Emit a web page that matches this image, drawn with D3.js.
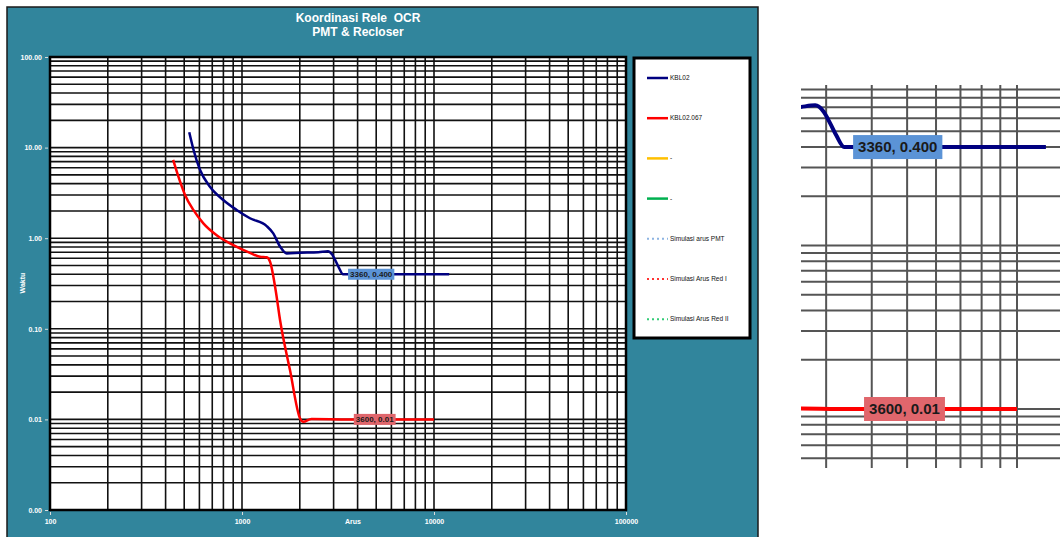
<!DOCTYPE html>
<html>
<head>
<meta charset="utf-8">
<script src="https://cdn.jsdelivr.net/npm/d3@7"></script>
<style>
body { margin: 0; background: #fff; }
svg { display: block; font-family: "Liberation Sans", Arial, sans-serif; }
</style>
</head>
<body>
<div id="containerDiv"></div>
<script>
// KBL02 relay curve
var kbl02Arus  = [531, 558, 604, 681, 799, 938, 1100, 1345, 1455, 1578, 1709, 2000, 2500, 2800, 2950, 3075, 3200, 3360, 12000];
var kbl02Waktu = [14.8, 9.6, 5.7, 3.7, 2.64, 2.05, 1.66, 1.36, 1.13, 0.81, 0.68, 0.69, 0.70, 0.72, 0.66, 0.56, 0.47, 0.40, 0.40];

// KBL02.067 recloser curve
var recArus  = [438, 466, 505, 558, 629, 738, 901, 1100, 1240, 1345, 1400, 1500, 1578, 1778, 2004, 2086, 2300, 3600, 10000];
var recWaktu = [7.3, 4.8, 3.0, 2.05, 1.46, 1.08, 0.84, 0.69, 0.625, 0.615, 0.55, 0.26, 0.125, 0.035, 0.0103, 0.0094, 0.0101, 0.01, 0.01];

// data labels
var labelArus  = [3360, 3600];
var labelWaktu = [0.400, 0.01];
var labelText  = ["3360, 0.400", "3600, 0.01"];

var xTicks = [100, 1000, 10000, 100000];
var xTickLabels = ["100", "1000", "10000", "100000"];
var yTicks = [100, 10, 1, 0.1, 0.01, 0.001];
var yTickLabels = ["100.00", "10.00", "1.00", "0.10", "0.01", "0.00"];

var legendNames = ["KBL02", "KBL02.067", "-", "-", "Simulasi arus PMT", "Simulasi Arus Red I", "Simulasi Arus Red II"];
var legendColors = ["#000080", "#ff0000", "#ffc000", "#00b050", "#8db4e2", "#ff3333", "#33cc77"];
var legendDotted = [false, false, false, false, true, true, true];

var series = [
  {arus: kbl02Arus, waktu: kbl02Waktu, color: "#000080"},
  {arus: recArus, waktu: recWaktu, color: "#ff0000"}
];
var labelFill = ["#5b93d6", "#e0666c"];

var w = 1060, h = 537;
var teal = "#31859c";

var svg = d3.select("#containerDiv").append("svg")
    .attr("width", w)
    .attr("height", h);

// chart panel
svg.append("rect")
   .attr("x", 7).attr("y", 7)
   .attr("width", 751).attr("height", 540)
   .attr("fill", teal)
   .attr("stroke", "#1a1a1a")
   .attr("stroke-width", 1.5);

svg.append("text")
   .attr("x", 358).attr("y", 22)
   .attr("text-anchor", "middle")
   .attr("font-size", "12px").attr("font-weight", "bold")
   .attr("fill", "white")
   .attr("xml:space", "preserve")
   .text("Koordinasi Rele  OCR");
svg.append("text")
   .attr("x", 358).attr("y", 36)
   .attr("text-anchor", "middle")
   .attr("font-size", "12px").attr("font-weight", "bold")
   .attr("fill", "white")
   .text("PMT & Recloser");

// draws grid, curves and data labels for a given pair of scales
function drawPlot(g, x, y, o) {
  g.append("rect")
   .attr("x", o.left).attr("y", o.top)
   .attr("width", o.right - o.left).attr("height", o.bottom - o.top)
   .attr("fill", "white");

  g.selectAll(".vgrid")
   .data(x.ticks())
   .enter()
   .append("line")
   .attr("x1", function(d) { return x(d); })
   .attr("x2", function(d) { return x(d); })
   .attr("y1", o.top).attr("y2", o.bottom)
   .attr("stroke", o.grid).attr("stroke-width", o.gridWidth);

  g.selectAll(".hgrid")
   .data(y.ticks())
   .enter()
   .append("line")
   .attr("y1", function(d) { return y(d); })
   .attr("y2", function(d) { return y(d); })
   .attr("x1", o.left).attr("x2", o.right)
   .attr("stroke", o.grid).attr("stroke-width", o.gridWidth);

  var line = d3.line()
      .x(function(d) { return x(d[0]); })
      .y(function(d) { return y(d[1]); })
      .curve(d3.curveMonotoneX);

  series.forEach(function(s) {
    g.append("path")
     .datum(d3.zip(s.arus, s.waktu))
     .attr("d", line)
     .attr("fill", "none")
     .attr("stroke", s.color)
     .attr("stroke-width", o.lineWidth)
     .attr("stroke-linejoin", "round");
  });

  labelText.forEach(function(t, i) {
    var lx = x(labelArus[i]) + o.labelGap;
    var ly = y(labelWaktu[i]);
    var txt = g.append("text")
     .attr("x", lx + o.pad).attr("y", ly + o.fontSize * 0.36)
     .attr("font-size", o.fontSize + "px")
     .attr("font-weight", "bold")
     .attr("fill", "#1a1a1a")
     .text(t);
    var bw = txt.node().getComputedTextLength() + o.pad * 2;
    g.insert("rect", function() { return txt.node(); })
     .attr("x", lx).attr("y", ly - o.boxH / 2)
     .attr("width", bw).attr("height", o.boxH)
     .attr("fill", labelFill[i]);
  });
}

// main chart
var x = d3.scaleLog().domain([100, 100000]).range([50, 626]);
var y = d3.scaleLog().domain([100, 0.001]).range([57, 510]);

var plot = svg.append("g");
drawPlot(plot, x, y, {left: 50, right: 626, top: 57, bottom: 510,
  grid: "#111", gridWidth: 1.6, lineWidth: 2.5, labelGap: 5, pad: 2,
  fontSize: 8, boxH: 11});

plot.append("rect")
   .attr("x", 50).attr("y", 57)
   .attr("width", 576).attr("height", 453)
   .attr("fill", "none")
   .attr("stroke", "black")
   .attr("stroke-width", 2.5);

var yAxis = svg.append("g")
   .attr("transform", "translate(48,0)")
   .call(d3.axisLeft(y).tickValues(yTicks)
        .tickFormat(function(d, i) { return yTickLabels[i]; })
        .tickSize(3).tickPadding(3));
var xAxis = svg.append("g")
   .attr("transform", "translate(0,512)")
   .call(d3.axisBottom(x).tickValues(xTicks)
        .tickFormat(function(d, i) { return xTickLabels[i]; })
        .tickSize(3).tickPadding(4));
[yAxis, xAxis].forEach(function(a) {
  a.select(".domain").remove();
  a.selectAll("line").attr("stroke", "#ddd");
  a.selectAll("text")
   .attr("fill", "white")
   .attr("font-size", "7px")
   .attr("font-weight", "bold")
   .attr("font-family", "Liberation Sans, Arial, sans-serif");
});

svg.append("text")
   .attr("x", 353).attr("y", 524)
   .attr("text-anchor", "middle")
   .attr("font-size", "7px").attr("font-weight", "bold")
   .attr("fill", "white")
   .text("Arus");
svg.append("text")
   .attr("transform", "translate(25,283) rotate(-90)")
   .attr("text-anchor", "middle")
   .attr("font-size", "7px").attr("font-weight", "bold")
   .attr("fill", "white")
   .text("Waktu");

// legend
var legend = svg.append("g");
legend.append("rect")
   .attr("x", 634).attr("y", 58)
   .attr("width", 116).attr("height", 280)
   .attr("fill", "white")
   .attr("stroke", "black")
   .attr("stroke-width", 3);

legend.selectAll("line")
   .data(legendNames)
   .enter()
   .append("line")
   .attr("x1", 647).attr("x2", 668)
   .attr("y1", function(d, i) { return 78 + i * 40.2; })
   .attr("y2", function(d, i) { return 78 + i * 40.2; })
   .attr("stroke", function(d, i) { return legendColors[i]; })
   .attr("stroke-width", function(d, i) { return legendDotted[i] ? 2 : 2.5; })
   .attr("stroke-dasharray", function(d, i) { return legendDotted[i] ? "2,3" : null; });

legend.selectAll("text")
   .data(legendNames)
   .enter()
   .append("text")
   .attr("x", 670)
   .attr("y", function(d, i) { return 80 + i * 40.2; })
   .attr("font-size", "6.5px")
   .attr("fill", "#111")
   .text(function(d) { return d; });

// zoomed inset of the data labels
var xi = d3.scaleLog().domain([1000, 100000]).range([652, 1382]);
var yi = d3.scaleLog().domain([10, 0.001]).range([-81.5, 572.5]);

svg.append("clipPath").attr("id", "insetClip")
   .append("rect")
   .attr("x", 801).attr("y", 85)
   .attr("width", 259).attr("height", 383);

var inset = svg.append("g").attr("clip-path", "url(#insetClip)");
drawPlot(inset, xi, yi, {left: 801, right: 1060, top: 85, bottom: 468,
  grid: "#555", gridWidth: 2, lineWidth: 4, labelGap: 9, pad: 5,
  fontSize: 15, boxH: 24});
</script>
</body>
</html>
